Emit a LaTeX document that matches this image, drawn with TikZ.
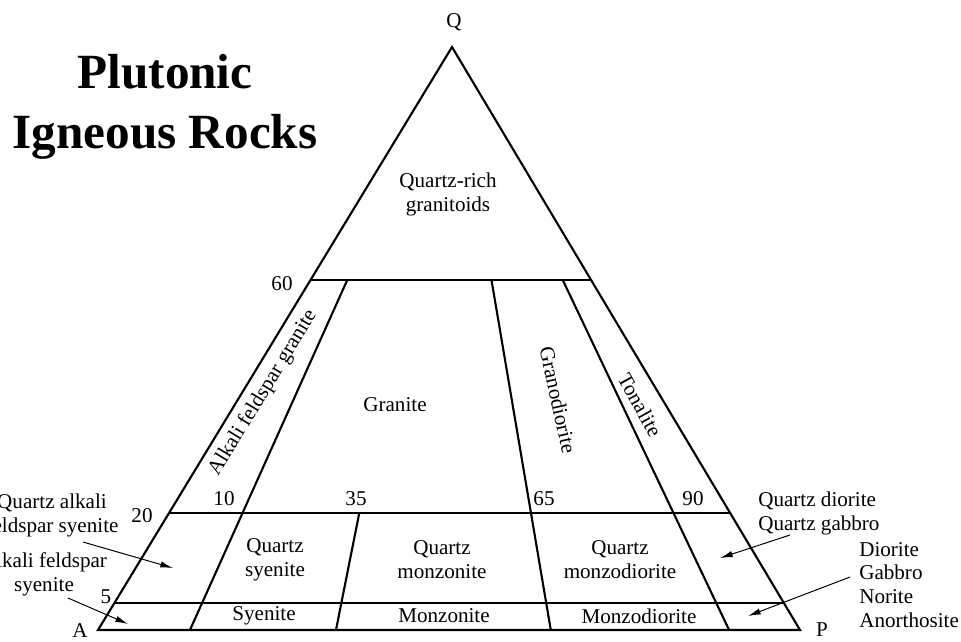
\documentclass[tikz,border=0pt]{standalone}
\usepackage{fontspec}
\setmainfont{Liberation Serif}
\usetikzlibrary{calc, arrows.meta, positioning}
\tikzset{field/.style={line width=1.5pt, line join=miter}}
\tikzset{pointer/.style={-{Latex[length=9pt, width=4.5pt]}, line width=0.7pt}}
\tikzset{lbl/.style={font=\fontsize{15}{17}\selectfont, inner sep=0pt, align=center}}
\tikzset{title/.style={font=\fontsize{35}{42}\selectfont\bfseries, inner sep=0pt}}

\begin{document}
\begin{tikzpicture}[x=0.025cm, y=-0.025cm]
\useasboundingbox (0,0) rectangle (961,641);

% corners of the QAP triangle
\coordinate (A) at (98,630);
\coordinate (P) at (800,630);
\coordinate (Q) at (452,47);

% horizontal cuts at Q = 60, 20, 5
\coordinate (L60) at ($(A)!0.6!(Q)$);
\coordinate (R60) at ($(P)!0.6!(Q)$);
\coordinate (L20) at ($(A)!0.2!(Q)$);
\coordinate (R20) at ($(P)!0.2!(Q)$);
\coordinate (L05) at ($(A)!0.047!(Q)$);
\coordinate (R05) at ($(P)!0.047!(Q)$);

% radial cuts towards Q
\coordinate (B10) at ($(A)!0.131!(P)$);
\coordinate (B35) at ($(A)!0.339!(P)$);
\coordinate (B65) at ($(A)!0.645!(P)$);
\coordinate (B90) at ($(A)!0.899!(P)$);
\coordinate (T10) at ($(B10)!0.6!(Q)$);
\coordinate (T35) at ($(B35)!0.2!(Q)$);
\coordinate (T65) at ($(B65)!0.6!(Q)$);
\coordinate (T90) at ($(B90)!0.6!(Q)$);

\draw [field] (A) -- (P) -- (Q) -- cycle;
\draw [field] (L60) -- (R60);
\draw [field] (L20) -- (R20);
\draw [field] (L05) -- (R05);
\draw [field] (B10) -- (T10);
\draw [field] (B35) -- (T35);
\draw [field] (B65) -- (T65);
\draw [field] (B90) -- (T90);

\node[title, anchor=base] (t1) at (165,88) {Plutonic};
\node[title, anchor=base] (t2) at (165,148) {Igneous Rocks};

\node[lbl] (nQ) at (454,22) {Q};
\node[lbl] (nA) at (80,631) {A};
\node[lbl] (nP) at (822,630) {P};

\node[lbl] (n60) at (282,284) {60};
\node[lbl] (n20) at (142,516) {20};
\node[lbl] (n05) at (106,597) {5};
\node[lbl] (n10) at (224,499) {10};
\node[lbl] (n35) at (356,499) {35};
\node[lbl] (n65) at (544,499) {65};
\node[lbl] (n90) at (693,499) {90};

\node[lbl] (qrg) at (448,194) {Quartz-rich\\granitoids};
\node[lbl, rotate=58.7] (afg) at (263,393) {Alkali feldspar granite};
\node[lbl] (gra) at (395,405) {Granite};
\node[lbl, rotate=-77.6] (grd) at (558,400) {Granodiorite};
\node[lbl, rotate=-61] (ton) at (640,405) {Tonalite};

\node[lbl] (qsy) at (275,560) {Quartz\\syenite};
\node[lbl] (qmz) at (442,560) {Quartz\\monzonite};
\node[lbl] (qmd) at (620,560) {Quartz\\monzodiorite};
\node[lbl] (sye) at (264,616) {Syenite};
\node[lbl] (mzn) at (444,616) {Monzonite};
\node[lbl] (mzd) at (639,616) {Monzodiorite};

\node[lbl] (qafs) at (52,515) {Quartz alkali\\feldspar syenite};
\node[lbl] (afs) at (44,574) {Alkali feldspar\\syenite};
\node[lbl, align=left, anchor=west] (qdg) at (758,513) {Quartz diorite\\Quartz gabbro};
\node[lbl, align=left, anchor=west] (dgn) at (859,585) {Diorite\\Gabbro\\Norite\\Anorthosite};

% pointers into the narrow fields
\coordinate (qafs-from) at (83,542);
\coordinate (qafs-to) at (173,568);
\coordinate (afs-from) at (68,598);
\coordinate (afs-to) at (128,624);
\coordinate (qdg-from) at (790,535);
\coordinate (qdg-to) at (720,558);
\coordinate (dgn-from) at (850,577);
\coordinate (dgn-to) at (748,616);
\draw [pointer] (qafs-from) -- (qafs-to);
\draw [pointer] (afs-from) -- (afs-to);
\draw [pointer] (qdg-from) -- (qdg-to);
\draw [pointer] (dgn-from) -- (dgn-to);

\end{tikzpicture}
\end{document}
